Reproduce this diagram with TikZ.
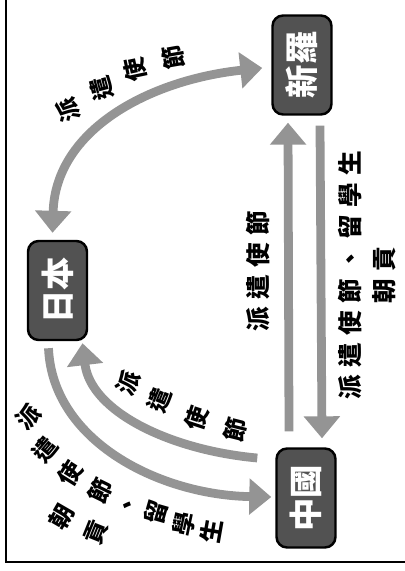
\documentclass[tikz,border=0pt]{standalone}
\usepackage{fontspec}
\usetikzlibrary{arrows.meta,calc}
\newfontfamily\cjk{Noto Sans CJK TC}
\newfontfamily\cjksp{Noto Sans CJK TC}[LetterSpace=30]

\tikzset{
	land/.style={draw=black, line width=1.4pt, fill=black!68, rounded corners=6pt, rotate=90,
		minimum width=1.98cm, minimum height=1.18cm, inner sep=0pt, text=white,
		font=\fontsize{19pt}{19pt}\cjk\bfseries},
	envoy/.style={line width=5pt, draw=black!42, -{Triangle[width=20pt,length=12.5pt]}},
	envoys/.style={envoy, {Triangle[width=20pt,length=12.5pt]}-{Triangle[width=20pt,length=12.5pt]}},
	glyph/.style={inner sep=0pt, font=\fontsize{13.5pt}{13.5pt}\cjk\bfseries},
	caption/.style={inner sep=0pt, rotate=90, align=center, font=\fontsize{14pt}{19pt}\cjksp\bfseries},
}

\begin{document}
\begin{tikzpicture}[x=0.02cm, y=-0.02cm]
		%%%%% START %%%%%
		\useasboundingbox (0,0) rectangle (405,571);
		
		\draw[line width=1.2pt] (6,0) -- (6,562) -- (405,562);
		
		\node[land] (silla) at (302,65) {新羅};
		\node[land] (japan) at (57.5,290.5) {日本};
		\node[land] (china) at (306,498) {中國};
		
		% Japan <-> Silla
		\draw[envoys] ($(japan.east)+(-5,-7)$) .. controls +(3,-103) and +(-113,12) .. ($(silla.north)+(-9,3)$);
		\foreach \ch/\px/\py/\rot [count=\i] in {派/68/110/108, 遣/102/88/105, 使/135/70/102, 節/173/57/100}
			\node[glyph, rotate=\rot] (toSilla\i) at (\px,\py) {\ch};
		
		% China <-> Silla
		\draw[envoy] ($(china.east)+(-17,-16)$) -- ($(silla.west)+(-14,7)$);
		\draw[envoy] ($(silla.west)+(18,10)$) -- ($(china.east)+(16,-9)$);
		\node[caption] (toSillaText) at (258,271) {派遣使節};
		\node[caption] (toChinaText) at (367,275) {派遣使節、留學生\\朝貢};
		
		% Japan <-> China
		\draw[envoy] ($(japan.west)+(-9,7)$) .. controls +(4,93) and +(-112,-2) .. ($(china.north)+(-4,-1)$);
		\draw[envoy] ($(china.north)+(-18,-40)$) .. controls +(-88,-8) and +(8,68) .. ($(japan.west)+(25,2)$);
		\foreach \ch/\px/\py/\rot [count=\i] in {派/128/383/65, 遣/160/400/68, 使/197/418/72, 節/235/430/76}
			\node[glyph, rotate=\rot] (toJapan\i) at (\px,\py) {\ch};
		\foreach \ch/\px/\py/\rot [count=\i] in {派/29/417/45, 遣/45/450/50, 使/70/474/58, 節/100/491/64,
			留/156/513/74, 學/184/524/78, 生/211/531/80, 朝/62/517/60, 貢/96/532/68}
			\node[glyph, rotate=\rot] (toChina\i) at (\px,\py) {\ch};
		\node[glyph, rotate=70] (toChinaComma) at (127,505) {\smash{\raisebox{-0.38em}{\makebox[0pt]{、}}}};
		
		%%%%% END %%%%%
\end{tikzpicture}
\end{document}
